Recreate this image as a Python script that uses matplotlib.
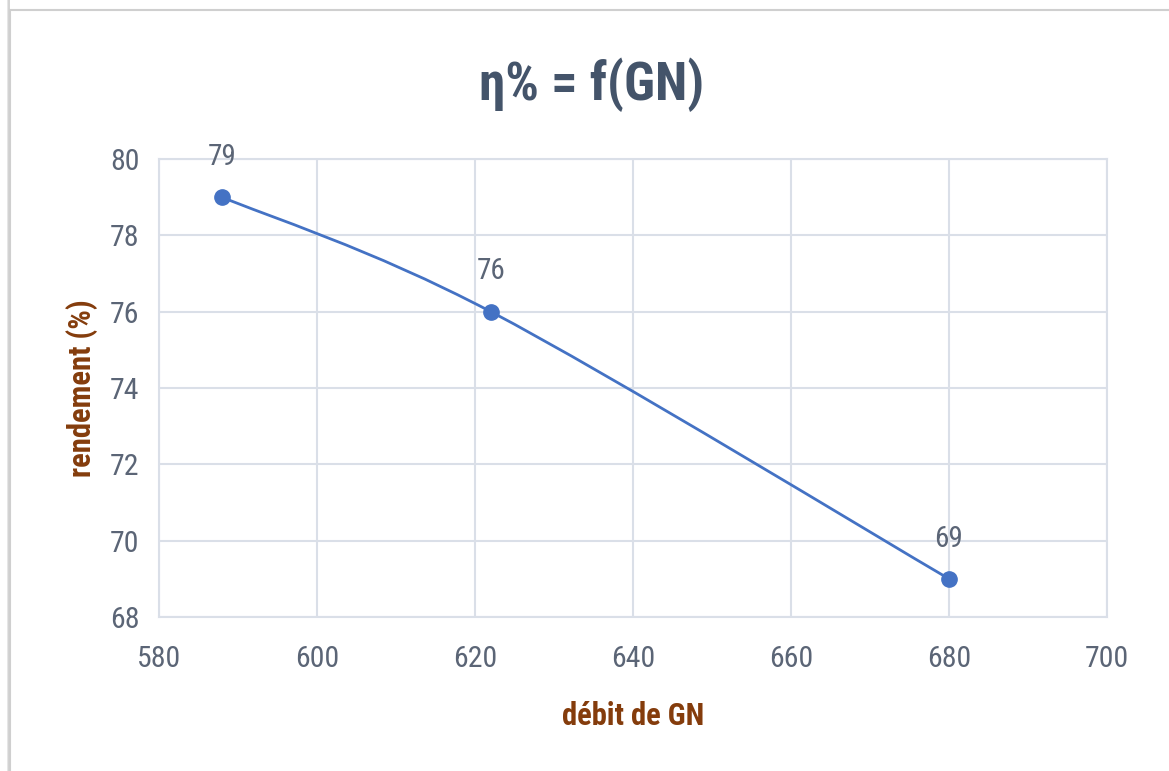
import matplotlib
matplotlib.use("Agg")
import matplotlib.pyplot as plt
from matplotlib import font_manager
from matplotlib.path import Path
from matplotlib.patches import PathPatch, Rectangle
import numpy as np

debit = [588, 622, 680]
rendement = [79, 76, 69]
x_ticks = [580, 600, 620, 640, 660, 680, 700]
y_ticks = [68, 70, 72, 74, 76, 78, 80]
title = "η% = f(GN)"
xlabel = "débit de GN"
ylabel = "rendement (%)"

names = {f.name for f in font_manager.fontManager.ttflist}
font = "Open Sans"
for cand in ["Liberation Sans Narrow", "Roboto Condensed", "Open Sans"]:
    if cand in names:
        font = cand
        break
plt.rcParams["font.family"] = [font, "DejaVu Sans"]

W, H = 1169, 771
fig = plt.figure(figsize=(W / 100, H / 100), dpi=100)
fig.patch.set_facecolor("white")

# chart frame with shadow
for off, c in [(5, "#e6e6e6"), (3, "#d4d4d4")]:
    fig.patches.append(Rectangle((10 / W - off / W * 0.6, -0.1), 2 / W, 1.2, transform=fig.transFigure,
                                 facecolor=c, edgecolor="none", zorder=-3))
fig.patches.append(Rectangle((10 / W, -0.1), 1.2, 1 - 10 / H + 0.1, transform=fig.transFigure,
                             facecolor="white", edgecolor="#cfcfcf", lw=1.5, zorder=-2))

ax = fig.add_axes([159 / W, 1 - 617 / H, (1107 - 159) / W, (617 - 159) / H])
ax.set_xlim(580, 700)
ax.set_ylim(68, 80)
ax.set_xticks(x_ticks)
ax.set_yticks(y_ticks)
grid_c = "#dadfe8"
ax.grid(True, color=grid_c, lw=1.5)
ax.set_axisbelow(True)
for s in ax.spines.values():
    s.set_color(grid_c)
    s.set_linewidth(1.5)
tick_c = "#5b6576"
ax.tick_params(length=0, colors=tick_c, labelsize=21.5, pad=14)
ax.tick_params(axis="x", pad=20)

# Excel-like smoothed line (cubic Bezier)
P = np.column_stack([debit, rendement]).astype(float)
n = len(P)
verts = [P[0]]
codes = [Path.MOVETO]
for i in range(n - 1):
    p0 = P[i - 1] if i > 0 else P[i]
    p1 = P[i]
    p2 = P[i + 1]
    p3 = P[i + 2] if i + 2 < n else P[i + 1]
    c1 = p1 + (p2 - p0) / 6
    c2 = p2 - (p3 - p1) / 6
    verts += [c1, c2, p2]
    codes += [Path.CURVE4] * 3
ax.add_patch(PathPatch(Path(verts, codes), facecolor="none", edgecolor="#4472c4", lw=2, zorder=3))
ax.plot(debit, rendement, "o", color="#4472c4", markersize=11, zorder=4)

for x, y in zip(debit, rendement):
    ax.annotate(str(y), (x, y), xytext=(0, 29), textcoords="offset points",
                ha="center", va="center", fontsize=21, color=tick_c)

lab_c = "#843c0c"
ax.set_xlabel(xlabel, fontsize=22, fontweight="bold", color=lab_c, labelpad=20)
ax.set_ylabel(ylabel, fontsize=22, fontweight="bold", color=lab_c, labelpad=9)

fig.text(592 / W, 1 - 85 / H, title, ha="center", va="center", fontsize=38,
         fontweight="bold", color="#44546a")

fig.savefig("out.png", dpi=100)
